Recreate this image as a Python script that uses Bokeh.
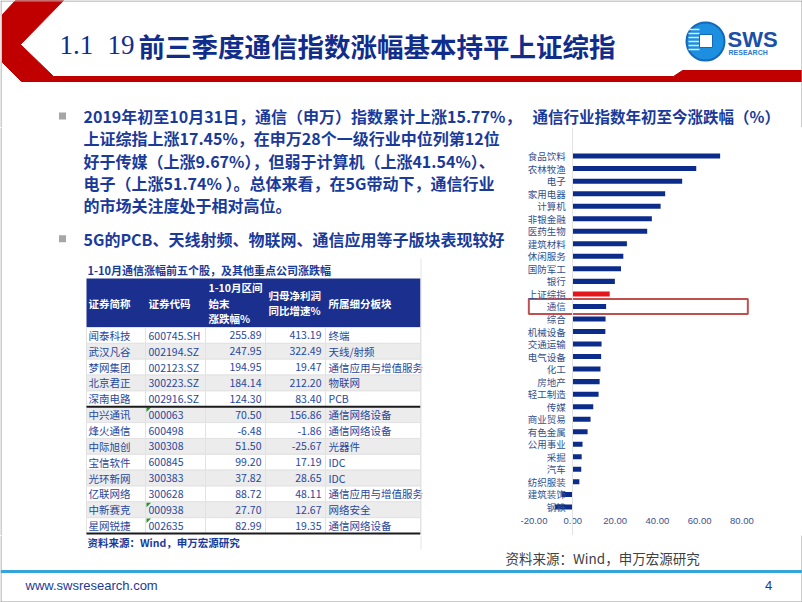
from bokeh.plotting import figure
from bokeh.models import Range1d, FactorRange, FixedTicker, NumeralTickFormatter, ColumnDataSource
from bokeh.layouts import column, row
from bokeh.core.properties import value
from bokeh.embed import file_html
from bokeh.resources import INLINE

# ---------------- data ----------------
industries = ["食品饮料", "农林牧渔", "电子", "家用电器", "计算机", "非银金融", "医药生物",
              "建筑材料", "休闲服务", "国防军工", "银行", "上证综指", "通信", "综合",
              "机械设备", "交通运输", "电气设备", "化工", "房地产", "轻工制造", "传媒",
              "商业贸易", "有色金属", "公用事业", "采掘", "汽车", "纺织服装", "建筑装饰", "钢铁"]
ytd_change = [69.7, 58.4, 51.74, 43.7, 41.54, 37.4, 35.2, 25.6, 23.9, 22.8, 19.9, 17.45,
              15.77, 15.5, 15.4, 13.6, 13.4, 13.1, 12.7, 12.2, 9.67, 8.4, 7.0, 4.6, 4.2,
              4.0, 3.1, -5.4, -8.5]
x_ticks = [-20, 0, 20, 40, 60, 80]
benchmark = "上证综指"
highlight = "通信"

stock_names = ["闻泰科技", "武汉凡谷", "梦网集团", "北京君正", "深南电路", "中兴通讯", "烽火通信",
               "中际旭创", "宝信软件", "光环新网", "亿联网络", "中新赛克", "星网锐捷"]
stock_codes = ["600745.SH", "002194.SZ", "002123.SZ", "300223.SZ", "002916.SZ", "000063",
               "600498", "300308", "600845", "300383", "300628", "000938", "002635"]
price_change = [255.89, 247.95, 194.95, 184.14, 124.30, 70.50, -6.48, 51.50, 99.20, 37.82,
                88.72, 27.70, 82.99]
profit_growth = [413.19, 322.49, 19.47, 212.20, 83.40, 156.86, -1.86, -25.67, 17.19, 28.65,
                 48.11, 12.67, 19.35]
sectors = ["终端", "天线/射频", "通信应用与增值服务", "物联网", "PCB", "通信网络设备", "通信网络设备",
           "光器件", "IDC", "IDC", "通信应用与增值服务", "网络安全", "通信网络设备"]
code_as_text = [False, False, False, False, False, True, False, False, False, False, False, True, True]
header_cols = [["证券简称"], ["证券代码"], ["1-10月区间", "始末", "涨跌幅%"], ["归母净利润", "同比增速%"], ["所属细分板块"]]

slide_title_num = ["1.1", "19"]
slide_title = "前三季度通信指数涨幅基本持平上证综指"
bullet1 = ["2019年初至10月31日，通信（申万）指数累计上涨15.77%，",
           "上证综指上涨17.45%，在申万28个一级行业中位列第12位",
           "好于传媒（上涨9.67%），但弱于计算机（上涨41.54%）、",
           "电子（上涨51.74% ）。总体来看，在5G带动下，通信行业",
           "的市场关注度处于相对高位。"]
bullet2 = "5G的PCB、天线射频、物联网、通信应用等子版块表现较好"
table_title = "1-10月通信涨幅前五个股，及其他重点公司涨跌幅"
chart_title = "通信行业指数年初至今涨跌幅（%）"
source_text = "资料来源：Wind，申万宏源研究"

CJK = "Noto Sans CJK SC"
NAVY = "#1a3a9a"
TITLE_BLUE = "#112d8c"
EDGE = "#9a9a9a"


def deco(x0, x1, y0, y1):
    f = figure(width=int(x1 - x0), height=int(y1 - y0),
               x_range=Range1d(x0, x1), y_range=Range1d(y1, y0),
               output_backend="svg", toolbar_location=None, min_border=0,
               outline_line_color=None, background_fill_color="white",
               border_fill_color="white")
    f.xaxis.visible = False
    f.yaxis.visible = False
    f.xgrid.visible = False
    f.ygrid.visible = False
    return f


def txt(f, x, y, s, size, color, bold=False, font=CJK, align="left"):
    f.text(x=[x], y=[y], text=[s], text_font=value(font), text_font_size=f"{size}px",
           text_color=color, text_font_style="bold" if bold else "normal",
           text_align=align, text_baseline="middle")


# ---------------- top banner (page y 0..127) ----------------
top = deco(0, 802, 0, 127)
top.patch([15, 63, 20, 53, 673, 682, 802, 802, 21, 2, 2],
          [0, 0, 44, 76, 76, 70, 70, 81, 81, 62, 14],
          fill_color="#c00000", line_color="#c00000")
txt(top, 59, 44, slide_title_num[0], 27, TITLE_BLUE, font="Liberation Serif")
txt(top, 107, 44, slide_title_num[1], 27, TITLE_BLUE, font="Liberation Serif")
txt(top, 138, 45, slide_title, 26.5, TITLE_BLUE, bold=True)
# logo
top.ellipse(x=[705], y=[41], width=38, height=38, fill_color="#1d8fe0", line_color="#1468b8", line_width=2)
top.segment(x0=[688] * 6, y0=[29, 33, 37, 41, 45, 49], x1=[699] * 6, y1=[29, 33, 37, 41, 45, 49],
            line_color="#d6ecfb", line_width=1.5)
top.quad(left=[699], right=[712], top=[34], bottom=[47], fill_color="white", line_color="#1468b8")
txt(top, 727, 39, "SWS", 22, "#1b4fa8", bold=True, font="Liberation Sans")
txt(top, 728, 52, "RESEARCH", 7, "#2a7bd0", bold=True, font="Liberation Sans")
# bullet 1 first line + chart title
top.scatter(x=[62], y=[115.5], marker="square", size=7, fill_color="#a6a6a6", line_color=None)
txt(top, 83, 115.5, bullet1[0], 16, NAVY, bold=True)
txt(top, 532, 115, chart_title, 15.5, NAVY, bold=True)
top.segment(x0=[0, 0.5, 801.5], y0=[0.5, 0, 0], x1=[802, 0.5, 801.5], y1=[0.5, 127, 127],
            line_color=EDGE, line_width=1)

# ---------------- left: text + table (page y 127..535) ----------------
left = deco(0, 520, 127, 535)
for i, line in enumerate(bullet1[1:]):
    txt(left, 83, 137.8 + 22.3 * i, line, 16, NAVY, bold=True)
left.scatter(x=[62], y=[238.3], marker="square", size=7, fill_color="#a6a6a6", line_color=None)
txt(left, 83, 238.3, bullet2, 16, NAVY, bold=True)

txt(left, 87, 269, table_title, 11, NAVY, bold=True)
col_edges = [86, 145, 205, 265, 325, 420]
head_top, head_bot = 278, 327
row_h = 15.85
left.quad(left=[col_edges[0]], right=[col_edges[-1]], top=[head_top], bottom=[head_bot],
          fill_color="#1b2f8e", line_color=None)
hx = [88, 148, 208, 268, 328]
for ci, lines in enumerate(header_cols):
    n_l = len(lines)
    for li, s in enumerate(lines):
        yy = 302.5 + (li - (n_l - 1) / 2) * 15.5
        txt(left, hx[ci], yy, s, 10.5, "white", bold=True)

n_rows = len(stock_names)
cl, cr, ct, cb, cf = [], [], [], [], []
for i in range(n_rows):
    t = head_bot + row_h * i
    for c in range(5):
        cl.append(col_edges[c]); cr.append(col_edges[c + 1])
        ct.append(t); cb.append(t + row_h)
        cf.append("#ececec" if i % 2 == 1 else "#ffffff")
left.quad(left=cl, right=cr, top=ct, bottom=cb, fill_color=cf, line_color="#e2e2e2", line_width=1)

ys = [head_bot + row_h * (i + 0.5) for i in range(n_rows)]
TCOL = "#27479e"
tsrc = ColumnDataSource(dict(
    y=ys, name=stock_names, code=stock_codes,
    pc=[f"{v:.2f}" for v in price_change], pg=[f"{v:.2f}" for v in profit_growth], sec=sectors))
for xx, field, al in [(88, "name", "left"), (148, "code", "left"), (261, "pc", "right"),
                      (321, "pg", "right"), (328, "sec", "left")]:
    left.text(x=xx, y="y", text=field, source=tsrc, text_font=value(CJK), text_font_size="10.5px",
              text_color=TCOL, text_align=al, text_baseline="middle")
tri_x, tri_y = [], []
for i, flag in enumerate(code_as_text):
    if flag:
        t = head_bot + row_h * i
        tri_x.append([146, 150.5, 146]); tri_y.append([t + 0.8, t + 0.8, t + 5.3])
left.patches(tri_x, tri_y, fill_color="#2e8b2e", line_color=None)
sep1 = head_bot + row_h * 5
sep2 = head_bot + row_h * n_rows
left.segment(x0=[86, 86], y0=[sep1, sep2], x1=[420, 420], y1=[sep1, sep2], line_color="#1a1a1a", line_width=2)
left.segment(x0=[420.5, 0.5], y0=[258, 127], x1=[420.5, 0.5], y1=[535, 535], line_color=["#e4e4e4", EDGE], line_width=1)

# ---------------- right: bar chart (page x 520..802, y 127..535) ----------------
bar_colors = ["#e8141b" if c == benchmark else "#0c2c8c" for c in industries]
chart = figure(width=282, height=408,
               y_range=FactorRange(factors=industries[::-1], range_padding=1.78,
                                   range_padding_units="absolute"),
               x_range=Range1d(-24.74, 108.66), output_backend="svg", toolbar_location=None,
               min_border=0, outline_line_color=None, background_fill_color="white",
               border_fill_color="white")
src = ColumnDataSource(dict(cat=industries, val=ytd_change, color=bar_colors))
chart.hbar(y="cat", left=0, right="val", height=0.4, fill_color="color", line_color=None, source=src)
chart.rect(x=[31.0], y=[highlight], width=103.6, height=1.2, fill_color=None,
           line_color="#c0504d", line_width=2)
chart.xgrid.visible = False
chart.ygrid.visible = False
xa = chart.xaxis[0]
xa.fixed_location = industries[-1]
xa.ticker = FixedTicker(ticks=x_ticks)
xa.formatter = NumeralTickFormatter(format="0.00")
xa.axis_line_color = None
xa.major_tick_line_color = None
xa.minor_tick_line_color = None
xa.major_tick_out = 0
xa.major_label_standoff = 11
xa.major_label_text_font = "Liberation Sans"
xa.major_label_text_font_size = "9.5px"
xa.major_label_text_color = "#3c5190"
ya = chart.yaxis[0]
ya.fixed_location = 0
ya.axis_line_color = "#e3e3e3"
ya.major_tick_line_color = None
ya.minor_tick_line_color = None
ya.major_tick_out = 0
ya.major_label_standoff = 7
ya.major_label_text_font = CJK
ya.major_label_text_font_size = "9.5px"
ya.major_label_text_color = "#33508f"

# ---------------- footer (page y 535..602) ----------------
bottom = deco(0, 802, 535, 602)
txt(bottom, 87, 542, source_text, 10.5, NAVY, bold=True)
bottom.segment(x0=[420.5], y0=[535], x1=[420.5], y1=[549], line_color="#e4e4e4", line_width=1)
txt(bottom, 505, 557, source_text, 13.5, "#3f3f3f")
bottom.segment(x0=[0], y0=[571], x1=[802], y1=[571], line_color="#35a4d8", line_width=3)
txt(bottom, 25, 585, "www.swsresearch.com", 13, NAVY, font="Liberation Sans")
txt(bottom, 768, 585, "4", 13, NAVY, font="Liberation Sans", align="center")
bottom.segment(x0=[0.5, 801.5, 0], y0=[535, 535, 601.5], x1=[0.5, 801.5, 802], y1=[602, 602, 601.5],
               line_color=EDGE, line_width=1)

p = column(top, row(left, chart), bottom)
open("out.html", "w").write(file_html(p, INLINE))
